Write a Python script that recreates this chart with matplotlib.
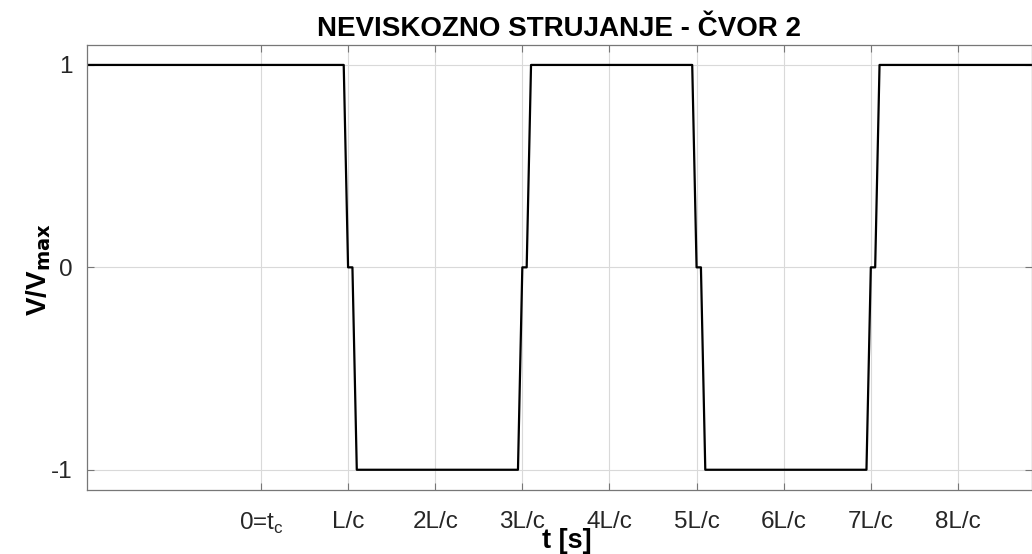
#!/usr/bin/env python3
"""Inviscid flow, node 2: normalised velocity V/Vmax against time."""
import matplotlib

matplotlib.use("Agg")
import matplotlib.pyplot as plt

# time in units of L/c, value as V/Vmax
t_vals = [-2.0, 0.95, 1.0, 1.05, 1.1, 2.95, 3.0, 3.05, 3.1,
          4.95, 5.0, 5.05, 5.1, 6.95, 7.0, 7.05, 7.1, 9.0]
v_vals = [1, 1, 0, 0, -1, -1, 0, 0, 1,
          1, 0, 0, -1, -1, 0, 0, 1, 1]

x_ticks = [0, 1, 2, 3, 4, 5, 6, 7, 8]
x_labels = ["0=t$_{\\mathregular{c}}$", "L/c", "2L/c", "3L/c", "4L/c",
            "5L/c", "6L/c", "7L/c", "8L/c"]
y_ticks = [-1, 0, 1]
y_labels = ["-1", "0", "1"]

plt.rcParams["font.family"] = ["Liberation Sans", "DejaVu Sans"]

W, H = 1032, 554
fig = plt.figure(figsize=(W / 100, H / 100), dpi=100)
left, right, top, bottom = 86.7, 1032.0, 44.7, 490.0
ax = fig.add_axes([left / W, 1 - bottom / H, (right - left) / W, (bottom - top) / H])

ax.plot(t_vals, v_vals, color="black", linewidth=1.6)

ax.set_xlim(-2, 8.85)
ax.set_ylim(-1.1, 1.1)
ax.set_xticks(x_ticks)
ax.set_xticklabels(x_labels)
ax.set_yticks(y_ticks)
ax.set_yticklabels(y_labels)

ax.grid(True, color="#d9d9d9", linewidth=0.8)
ax.set_axisbelow(True)
for s in ax.spines.values():
    s.set_color("#777777")
    s.set_linewidth(0.9)
ax.tick_params(direction="in", length=5, width=0.8, color="#777777",
               top=True, right=True, labelsize=17.5, labelcolor="#262626")
ax.tick_params(axis="x", pad=15)
ax.tick_params(axis="y", pad=10)

ax.set_title("NEVISKOZNO STRUJANJE - ČVOR 2", fontsize=20, fontweight="bold", pad=6)
ax.set_xlabel("t [s]", fontsize=19.5, fontweight="bold")
ax.xaxis.set_label_coords(0.508, -0.086)
ax.set_ylabel("V/V$_{\\mathbf{max}}$", fontsize=20, fontweight="bold")
ax.yaxis.set_label_coords(-0.036, 0.495)

fig.savefig("out.png", dpi=100)
